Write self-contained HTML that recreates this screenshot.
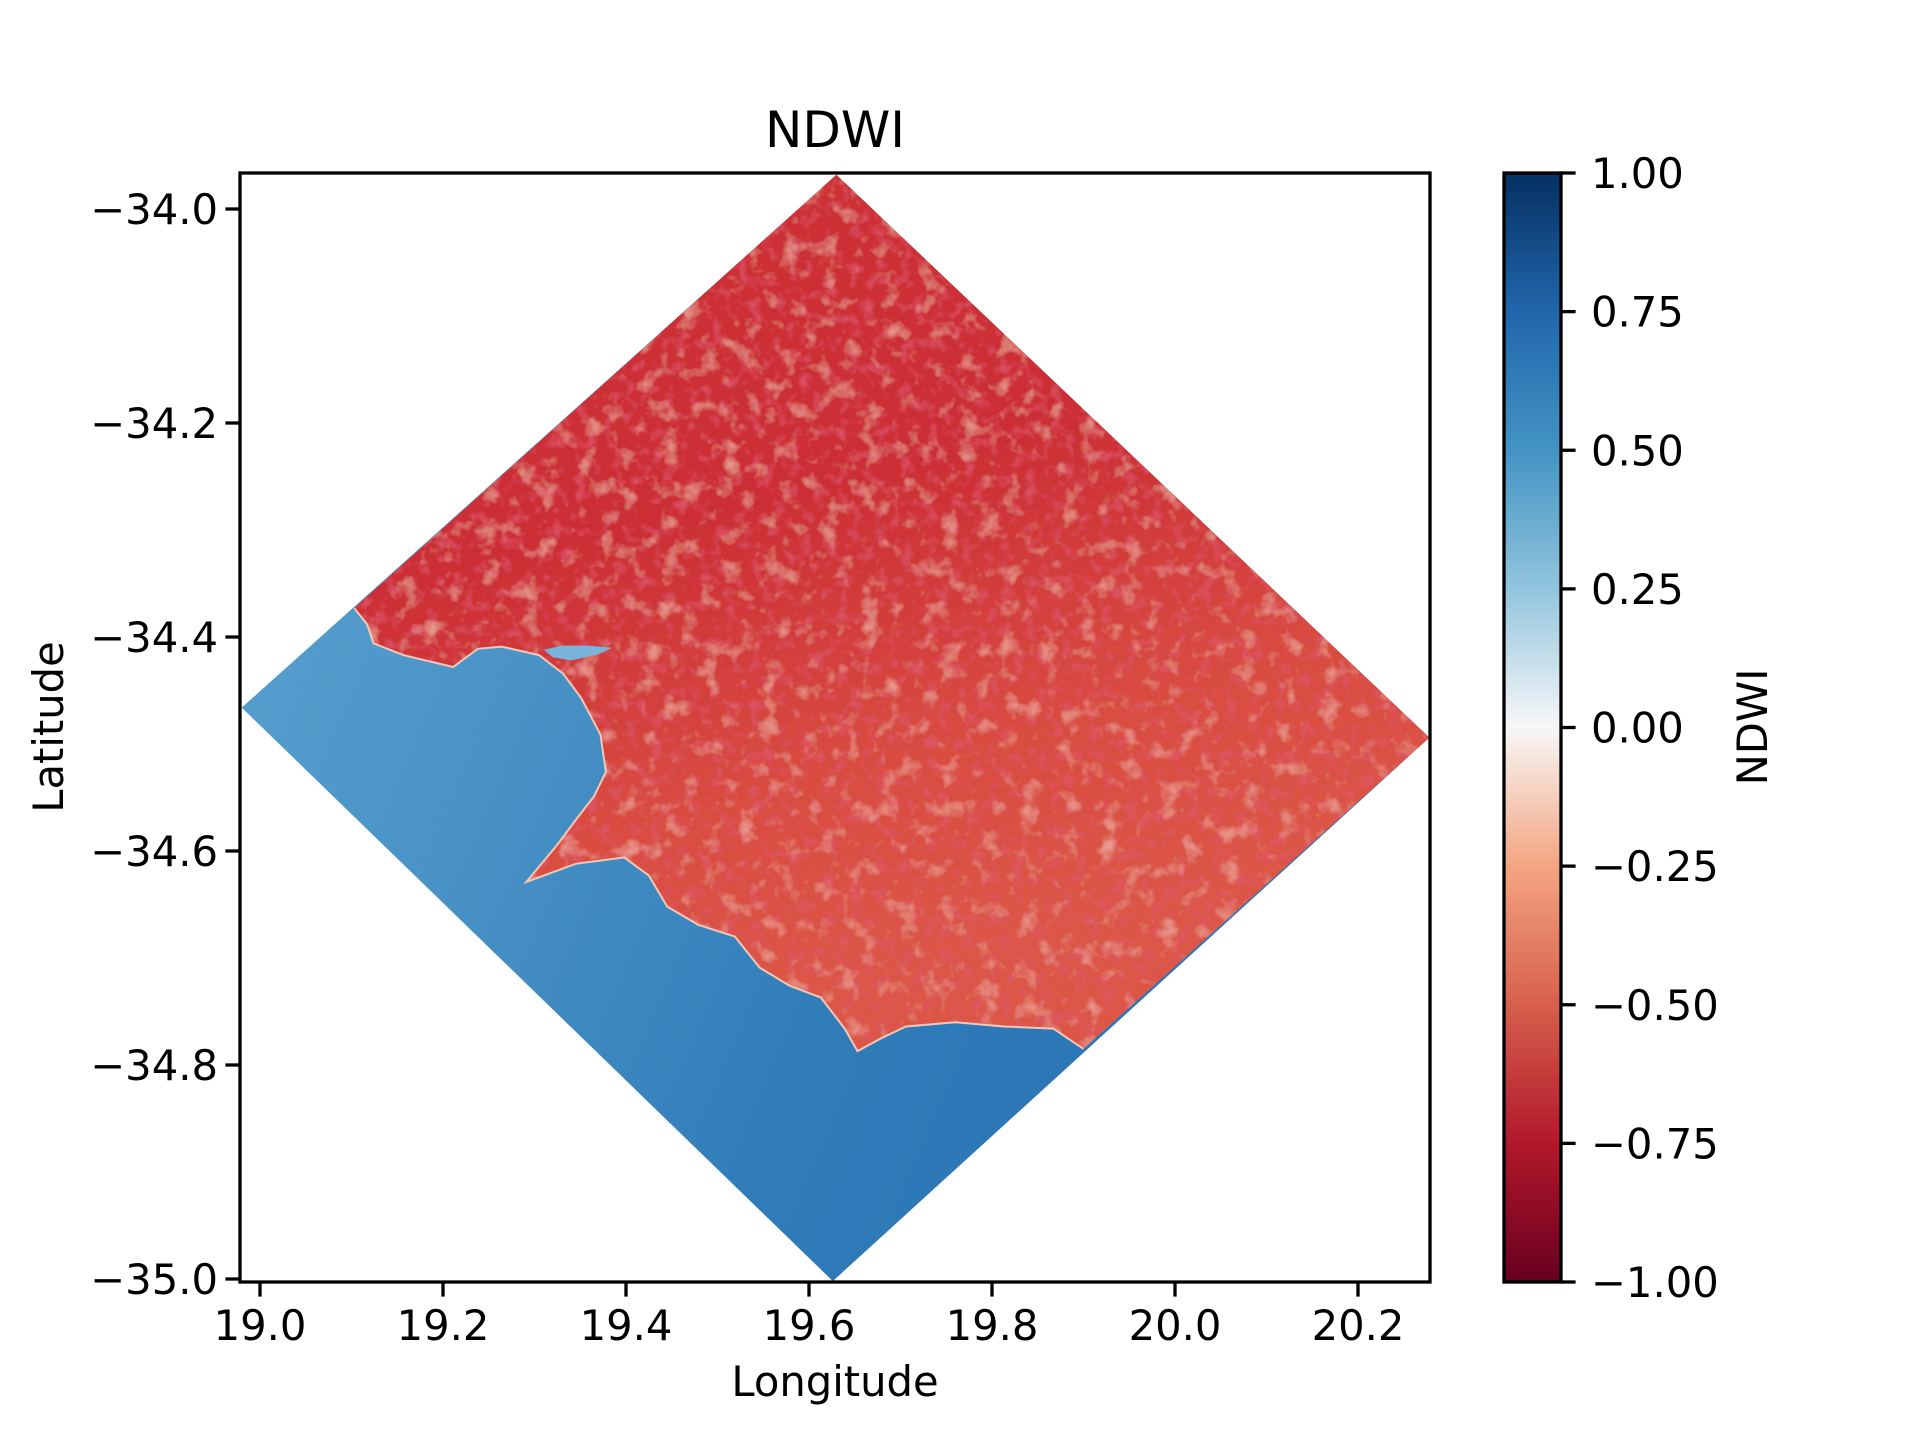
<!DOCTYPE html>
<html><head><meta charset="utf-8"><style>
html,body{margin:0;padding:0;background:#fff;}
svg{display:block;font-family:"DejaVu Sans","Liberation Sans",sans-serif;}
</style></head><body>
<svg id="chart" width="1920" height="1440" viewBox="0 0 1920 1440">
<defs>
<linearGradient id="seaGrad" x1="0" y1="0" x2="1" y2="0.4">
<stop offset="0" stop-color="#5ea5d2"/><stop offset="0.35" stop-color="#4a93c6"/><stop offset="0.7" stop-color="#2f7cb9"/><stop offset="1" stop-color="#2a74b3"/>
</linearGradient>
<linearGradient id="landGrad" x1="0" y1="0" x2="0.3" y2="1">
<stop offset="0" stop-color="#cd3035"/><stop offset="0.45" stop-color="#cc2f35"/><stop offset="0.75" stop-color="#d94c41"/><stop offset="1" stop-color="#dc5747"/>
</linearGradient>
<linearGradient id="cbGrad" x1="0" y1="1" x2="0" y2="0">
<stop offset="0" stop-color="#67001f"/><stop offset="0.125" stop-color="#b2182b"/><stop offset="0.25" stop-color="#d6604d"/><stop offset="0.375" stop-color="#f4a582"/><stop offset="0.5" stop-color="#f7f7f7"/><stop offset="0.625" stop-color="#92c5de"/><stop offset="0.75" stop-color="#4393c3"/><stop offset="0.875" stop-color="#2166ac"/><stop offset="1" stop-color="#053061"/>
</linearGradient>
<filter id="tex" x="0" y="0" width="100%" height="100%">
<feTurbulence type="fractalNoise" baseFrequency="0.05" numOctaves="3" seed="4" result="n"/>
<feColorMatrix in="n" type="matrix" values="0 0 0 0 0.87  0 0 0 0 0.42  0 0 0 0 0.35  0 0 0 2.0 -1.1" result="c"/>
<feComposite in="c" in2="SourceGraphic" operator="in" result="m"/>
<feTurbulence type="fractalNoise" baseFrequency="0.08" numOctaves="2" seed="11" result="n2"/>
<feColorMatrix in="n2" type="matrix" values="0 0 0 0 0.74  0 0 0 0 0.10  0 0 0 0 0.16  0 0 0 2.0 -1.0" result="c2"/>
<feComposite in="c2" in2="SourceGraphic" operator="in" result="m2"/>
<feMerge><feMergeNode in="SourceGraphic"/><feMergeNode in="m2"/><feMergeNode in="m"/></feMerge>
</filter>
</defs>
<g id="plot"></g>
<g id="axes"></g>
</svg>
<script>
const diamondLon = [19.630, 20.278, 19.626, 18.980];
const diamondLat = [-33.968, -34.494, -35.002, -34.466];
const coastLon = [19.103,19.117,19.124,19.157,19.211,19.238,19.264,19.305,19.331,19.351,19.372,19.378,19.365,19.345,19.325,19.291,19.345,19.398,19.425,19.445,19.479,19.519,19.546,19.579,19.613,19.639,19.653,19.679,19.706,19.760,19.813,19.867,19.900];
const coastLat = [-34.373,-34.388,-34.406,-34.417,-34.428,-34.411,-34.409,-34.417,-34.434,-34.457,-34.491,-34.526,-34.549,-34.571,-34.594,-34.629,-34.612,-34.606,-34.623,-34.652,-34.669,-34.680,-34.709,-34.726,-34.737,-34.766,-34.787,-34.775,-34.764,-34.760,-34.764,-34.766,-34.785];
const lagoonLon = [19.31,19.33,19.36,19.385,19.37,19.34,19.32];
const lagoonLat = [-34.412,-34.408,-34.408,-34.410,-34.416,-34.422,-34.419];
const xTicks = [19.0,19.2,19.4,19.6,19.8,20.0,20.2];
const xTickLabels = ["19.0","19.2","19.4","19.6","19.8","20.0","20.2"];
const yTicks = [-34.0,-34.2,-34.4,-34.6,-34.8,-35.0];
const yTickLabels = ["\u221234.0","\u221234.2","\u221234.4","\u221234.6","\u221234.8","\u221235.0"];
const cbTicks = [-1,-0.75,-0.5,-0.25,0,0.25,0.5,0.75,1];
const cbTickLabels = ["\u22121.00","\u22120.75","\u22120.50","\u22120.25","0.00","0.25","0.50","0.75","1.00"];

const NS="http://www.w3.org/2000/svg";
const AX={l:240,t:173,r:1430,b:1282};
function X(lon){return 260+(lon-19)*915;}
function Y(lat){return 209+(-34-lat)*1070;}
const CB={l:1504,r:1561,t:173,b:1282};
function CY(v){return CB.b-(v+1)/2*(CB.b-CB.t);}
function mk(tag,attrs,parent){const e=document.createElementNS(NS,tag);for(const k in attrs)e.setAttribute(k,attrs[k]);parent.appendChild(e);return e;}
const plot=document.getElementById('plot'), axes=document.getElementById('axes');
function pts(lons,lats){return lons.map((v,i)=>X(v).toFixed(1)+','+Y(lats[i]).toFixed(1)).join(' ');}

let e=mk('polygon',{points:pts(diamondLon,diamondLat),fill:'url(#seaGrad)'},plot);


const landLon=coastLon.concat([diamondLon[1],diamondLon[0]]);
const landLat=coastLat.concat([diamondLat[1],diamondLat[0]]);
e=mk('polygon',{points:pts(landLon,landLat),fill:'url(#landGrad)',filter:'url(#tex)'},plot);


e=mk('polyline',{points:pts(coastLon,coastLat),fill:'none',stroke:'#f0c8b8',"stroke-width":2},plot);


e=mk('polygon',{points:pts(lagoonLon,lagoonLat),fill:'#79b4da'},plot);



e=mk('rect',{x:AX.l,y:AX.t,width:AX.r-AX.l,height:AX.b-AX.t,fill:'none',stroke:'#000',"stroke-width":3.3},axes);


xTicks.forEach((v,i)=>{
 const x=X(v);
 let t=mk('line',{x1:x,x2:x,y1:AX.b,y2:AX.b+14.6,stroke:'#000',"stroke-width":3.3},axes);
 
 
 let l=mk('text',{x:x,y:AX.b+58,"font-size":41.7,"text-anchor":"middle"},axes);
 l.textContent=xTickLabels[i];
 
 
});
yTicks.forEach((v,i)=>{
 const y=Y(v);
 let t=mk('line',{x1:AX.l-14.6,x2:AX.l,y1:y,y2:y,stroke:'#000',"stroke-width":3.3},axes);
 
 
 let l=mk('text',{x:AX.l-22,y:y+15,"font-size":41.7,"text-anchor":"end"},axes);
 l.textContent=yTickLabels[i];
 
 
});
e=mk('rect',{x:CB.l,y:CB.t,width:CB.r-CB.l,height:CB.b-CB.t,fill:'url(#cbGrad)',stroke:'#000',"stroke-width":3.3},axes);


cbTicks.forEach((v,i)=>{
 const y=CY(v);
 let t=mk('line',{x1:CB.r,x2:CB.r+14.6,y1:y,y2:y,stroke:'#000',"stroke-width":3.3},axes);
 
 
 let l=mk('text',{x:CB.r+30,y:y+15,"font-size":41.7},axes);
 l.textContent=cbTickLabels[i];
 
 
});
let tt=mk('text',{x:(AX.l+AX.r)/2,y:147,"font-size":50,"text-anchor":"middle"},axes);
tt.textContent='NDWI';


tt=mk('text',{x:(AX.l+AX.r)/2,y:1396,"font-size":41.7,"text-anchor":"middle"},axes);
tt.textContent='Longitude';


tt=mk('text',{x:0,y:0,"font-size":41.7,"text-anchor":"middle",transform:'translate(63,727) rotate(-90)'},axes);
tt.textContent='Latitude';


tt=mk('text',{x:0,y:0,"font-size":41.7,"text-anchor":"middle",transform:'translate(1767,727) rotate(-90)'},axes);
tt.textContent='NDWI';


</script>
</body></html>
